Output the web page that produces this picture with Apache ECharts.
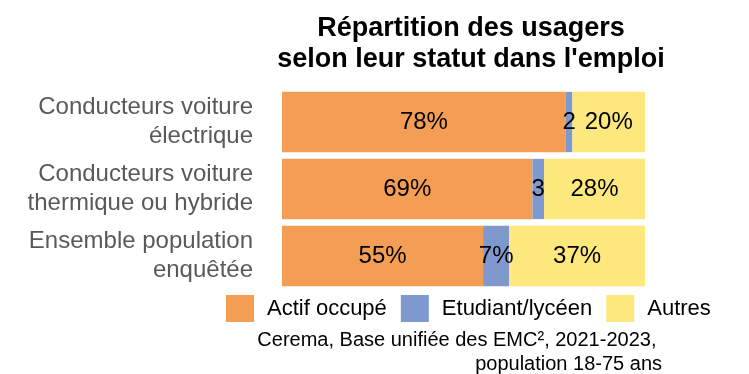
<!DOCTYPE html>
<html>
<head>
<meta charset="utf-8">
<script src="https://cdn.jsdelivr.net/npm/echarts@6/dist/echarts.min.js"></script>
<style>
html,body{margin:0;padding:0;background:#fff;}
#chart{width:749px;height:374px;}
</style>
</head>
<body>
<div id="chart"></div>
<script>
var categories = ['Conducteurs voiture\nélectrique', 'Conducteurs voiture\nthermique ou hybride', 'Ensemble population\nenquêtée'];
var seriesNames = ['Actif occupé', 'Etudiant/lycéen', 'Autres'];
var actif = [78.2, 69.0, 55.4];
var etudiant = [1.8, 3.2, 7.2];
var autres = [20.0, 27.8, 37.4];
var actifLabels = ['78%', '69%', '55%'];
var etudiantLabels = ['2', '3', '7%'];
var autresLabels = ['20%', '28%', '37%'];
var sourceLines = ['Cerema, Base unifiée des EMC², 2021-2023, ', 'population 18-75 ans'];
var colors = ['#F39D55', '#7F99CF', '#FDE87D'];
var FONT = '"Liberation Sans", Arial, sans-serif';

function makeSeries(name, values, labels, color) {
  return {
    name: name,
    type: 'bar',
    stack: 'total',
    barCategoryGap: '10%',
    itemStyle: { color: color },
    label: {
      show: true,
      position: 'inside',
      color: '#000',
      fontSize: 24,
      fontFamily: FONT,
      formatter: function (p) { return labels[p.dataIndex]; }
    },
    data: values
  };
}

var chart = echarts.init(document.getElementById('chart'), null, { renderer: 'canvas' });
chart.setOption({
  animation: false,
  backgroundColor: '#fff',
  textStyle: { fontFamily: FONT },
  title: {
    text: 'Répartition des usagers\nselon leur statut dans l\'emploi',
    left: 466,
    top: 8,
    textAlign: 'center',
    textStyle: { fontFamily: FONT, fontWeight: 'bold', fontSize: 27, lineHeight: 31, color: '#000' }
  },
  graphic: [{
    type: 'text',
    x: 662,
    y: 328,
    style: {
      text: sourceLines.join('\n'),
      fill: '#000',
      font: '20px ' + FONT,
      lineHeight: 24,
      textAlign: 'right',
      textVerticalAlign: 'top'
    }
  }],
  legend: {
    data: seriesNames,
    left: 221,
    top: 290,
    itemWidth: 28,
    itemHeight: 27,
    itemGap: 14,
    icon: 'rect',
    textStyle: { fontFamily: FONT, fontSize: 22, color: '#000', padding: [0, 0, 0, 8] }
  },
  grid: { left: 282, right: 104, top: 88.5, bottom: 84.5, containLabel: false },
  xAxis: { type: 'value', min: 0, max: 100, show: false },
  yAxis: {
    type: 'category',
    inverse: true,
    data: categories,
    axisLine: { show: false },
    axisTick: { show: false },
    axisLabel: { fontFamily: FONT, fontSize: 24, lineHeight: 29, color: '#595959', margin: 29, align: 'right' }
  },
  series: [
    makeSeries(seriesNames[0], actif, actifLabels, colors[0]),
    makeSeries(seriesNames[1], etudiant, etudiantLabels, colors[1]),
    makeSeries(seriesNames[2], autres, autresLabels, colors[2])
  ]
});
</script>
</body>
</html>
